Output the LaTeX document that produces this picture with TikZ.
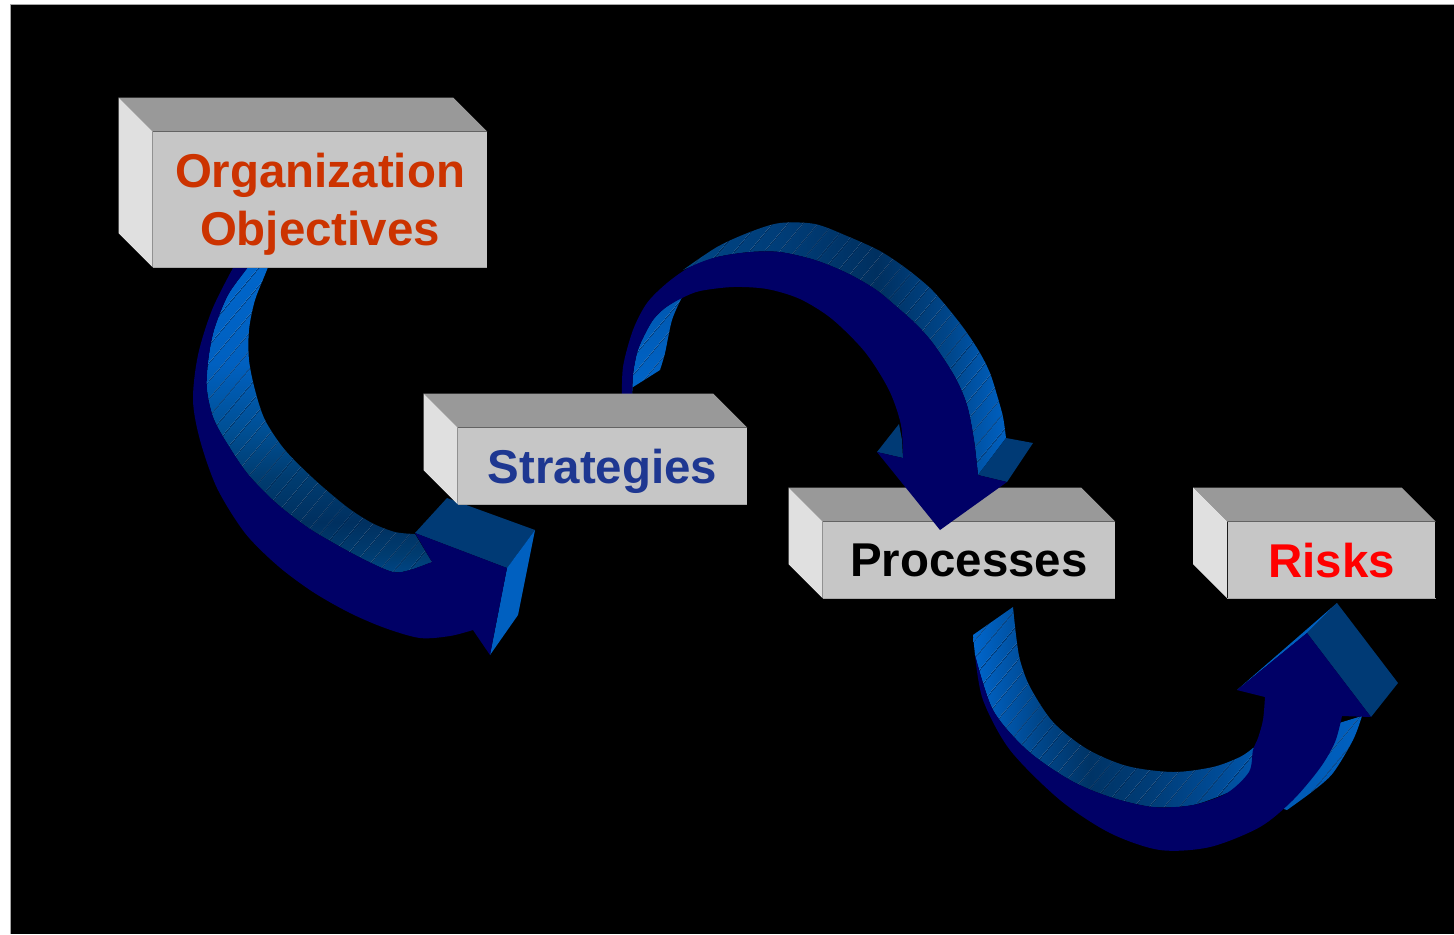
\documentclass[tikz,border=0pt]{standalone}
\usepackage{fontspec}
\setmainfont{Liberation Sans}
\usetikzlibrary{patterns.meta}

\definecolor{boxfront}{HTML}{C6C6C6}
\definecolor{boxtop}{HTML}{999999}
\definecolor{boxside}{HTML}{E0E0E0}
\definecolor{boxline}{HTML}{A8A8A8}
\definecolor{arrowfront}{HTML}{000066}
\definecolor{headtop}{HTML}{003A75}
\definecolor{headside}{HTML}{0060C0}
\definecolor{hatch}{HTML}{00224A}
\definecolor{orgred}{HTML}{CC3300}
\definecolor{stratblue}{HTML}{1E3791}
\definecolor{riskred}{HTML}{FF0000}

% band colours, bright to dark
\definecolor{bA}{HTML}{0066CC}
\definecolor{bB}{HTML}{0060C0}
\definecolor{bC}{HTML}{0058B0}
\definecolor{bD}{HTML}{005096}
\definecolor{bE}{HTML}{00468A}
\definecolor{bF}{HTML}{004585}
\definecolor{bG}{HTML}{003D78}
\definecolor{bH}{HTML}{003C70}
\definecolor{bI}{HTML}{003466}
\definecolor{bJ}{HTML}{003060}
\definecolor{bK}{HTML}{004C98}

\pgfdeclareverticalshading{bandone}{100bp}{color(0bp)=(bF); color(25bp)=(bF);
  color(28bp)=(bH); color(33bp)=(bJ); color(40bp)=(bH); color(48bp)=(bD);
  color(58bp)=(bB); color(75bp)=(bA); color(100bp)=(bA)}
\pgfdeclarehorizontalshading{bandtwo}{100bp}{color(0bp)=(bF); color(25bp)=(bF);
  color(40bp)=(bG); color(55bp)=(bJ); color(66bp)=(bE); color(72bp)=(bC);
  color(75bp)=(bB); color(100bp)=(bB)}
\pgfdeclarehorizontalshading{bandthree}{100bp}{color(0bp)=(bA); color(25bp)=(bA);
  color(28.5bp)=(bC); color(33.5bp)=(bE); color(40bp)=(bI); color(48bp)=(bG);
  color(57bp)=(bK); color(62bp)=(bC); color(75bp)=(bB); color(100bp)=(bB)}

\tikzset{
  block/.style={fill=boxfront, inner sep=0pt, minimum height=1.52cm, align=center,
    text depth=0pt, font=\bfseries\fontsize{27}{33}\selectfont},
  hatchlines/.style={pattern={Lines[angle=50,distance=6.5pt,line width=.3pt]}, pattern color=hatch},
}

% side and top faces of a block, 34 units deep
\newcommand\blockfaces[1]{%
  \fill[boxtop] (#1.north west) -- ++(-34,-34) -- ([shift={(-34,-34)}]#1.north east) -- (#1.north east) -- cycle;
  \fill[boxside] (#1.north west) -- ++(-34,-34) -- ([shift={(-34,-34)}]#1.south west) -- (#1.south west) -- cycle;
  \draw[boxline, line width=.7pt] (#1.south west) -- (#1.south east);
}

\begin{document}
\begin{tikzpicture}[x=0.02cm, y=-0.02cm]
\useasboundingbox (0,0) rectangle (1454,934);
\fill[white] (0,0) rectangle (1454,934);
\fill[black] (10.5,4.3) rectangle (1454,934);
\draw[gray!70, line width=.6pt] (10.5,934) -- (10.5,4.3) -- (1454,4.3);

% lower blocks first, the arrows run over them
\node[block, minimum width=5.84cm] (proc) at (969,560) {Processes};
\blockfaces{proc}
\node[block, minimum width=4.16cm, text=riskred] (risk) at (1331.5,560) {Risks};
\blockfaces{risk}

% arrow from the objectives down to the strategies
\path[preaction={shade, shading=bandone}, hatchlines]
  plot[smooth] coordinates {(270,255) (268,267) (255,300) (249,330) (249,360) (255,390) (265,420) (285,450) (315,480) (347,507) (372,523) (395,532) (415,534)}
  -- (432,562)
  -- plot[smooth] coordinates {(432,562) (410,570) (393,572) (367,561) (337,545) (307,527) (275,502) (247,473) (225,440) (213,417) (207,390) (208,362) (214,330) (228,295) (248,267) (256,255)}
  -- cycle;
\fill[headtop] (415,533) -- (447,498) -- (535,530) -- (507,568) -- cycle;
\fill[headside] (507,568) -- (535,530) -- (518,615) -- (490,655) -- cycle;
\fill[arrowfront]
  plot[smooth] coordinates {(242,255) (233,268) (212,310) (198,355) (193,400) (200,440) (217,488) (245,533) (278,566) (313,592) (350,613) (385,628) (420,638) (450,636) (473,630)}
  -- (490,655) -- (507,568) -- (415,533) -- (432,562)
  -- plot[smooth] coordinates {(432,562) (410,570) (393,572) (367,561) (337,545) (307,527) (275,502) (247,473) (225,440) (213,417) (207,390) (208,362) (214,330) (228,295) (248,267) (256,255)}
  -- cycle;

% arrow from the strategies over to the processes
\path[preaction={shade, top color=bC, bottom color=bA}, hatchlines]
  plot[smooth] coordinates {(682,297) (672,320) (665,353) (660,370)} -- (622,394) -- (622,402) -- (632,402)
  -- plot[smooth] coordinates {(632,402) (633,375) (637,353) (643,338) (653,320) (665,308) (682,297)} -- cycle;
\path[preaction={shade, shading=bandtwo}, hatchlines]
  plot[smooth] coordinates {(683,270) (717,247) (750,232) (780,223) (815,224) (847,236) (880,251) (907,269) (930,288) (947,307) (965,330) (980,353) (990,373) (997,395) (1003,417) (1006,438)}
  -- (978,475)
  -- plot[smooth] coordinates {(978,475) (974,440) (967,405) (955,377) (935,346) (918,326) (897,307) (875,289) (847,273) (815,260) (780,252) (750,252) (717,257) (690,267) (683,270)}
  -- cycle;
\fill[headtop] (877,452) -- (899,424) -- (902,440) -- (903,458) -- cycle;
\fill[headtop] (978,475) -- (1006,438) -- (1033,443) -- (1007,482) -- cycle;
\fill[arrowfront]
  plot[smooth] coordinates {(622,402) (623,367) (633,330) (647,303) (667,283) (690,267) (717,257) (750,252) (780,252) (815,260) (847,273) (875,289) (897,307) (918,326) (935,346) (955,377) (967,405) (974,440) (978,475)}
  -- (1007,482) -- (940,530) -- (877,452) -- (903,458)
  -- plot[smooth] coordinates {(903,458) (901,425) (889,390) (865,352) (832,319) (800,299) (767,289) (733,287) (700,291) (682,298) (665,308) (653,320) (643,338) (637,353) (633,375) (632,402)}
  -- cycle;

% arrow from the processes round to the risks
\path[preaction={shade, shading=bandthree}, hatchlines]
  (973,635) -- (1013,607)
  -- plot[smooth] coordinates {(1013,607) (1016,635) (1020,660) (1030,687) (1053,722) (1087,749) (1127,766) (1173,772) (1213,767) (1240,757) (1253,748)}
  -- (1300,735) -- (1362,716)
  -- plot[smooth] coordinates {(1362,716) (1353,740) (1333,773) (1313,791) (1287,810)}
  -- (1240,795)
  -- plot[smooth] coordinates {(1227,793) (1193,805) (1153,807) (1110,797) (1070,780) (1027,750) (993,710) (975,655)}
  -- cycle;
\fill[headside] (1237,690) -- (1337,603) -- (1307,633) -- cycle;
\fill[headtop] (1307,633) -- (1337,603) -- (1398,683) -- (1371,717) -- cycle;
\fill[arrowfront]
  plot[smooth] coordinates {(975,655) (983,700) (1010,750) (1060,800) (1110,833) (1160,850) (1210,847) (1260,827) (1293,800) (1320,768) (1335,742) (1342,716)}
  -- (1371,717) -- (1307,633) -- (1237,690) -- (1265,697)
  -- plot[smooth] coordinates {(1265,697) (1263,720) (1258,738) (1253,750) (1249,772) (1227,793) (1193,805) (1153,807) (1110,797) (1070,780) (1027,750) (993,710) (975,655)}
  -- cycle;

% upper blocks cover the arrow tails
\node[block, minimum width=6.68cm, minimum height=2.7cm, text=orgred] (obj) at (320,199.5) {Organization\\Objectives};
\blockfaces{obj}
\node[block, minimum width=5.78cm, text=stratblue] (strat) at (602.5,466) {Strategies};
\blockfaces{strat}
\end{tikzpicture}
\end{document}
